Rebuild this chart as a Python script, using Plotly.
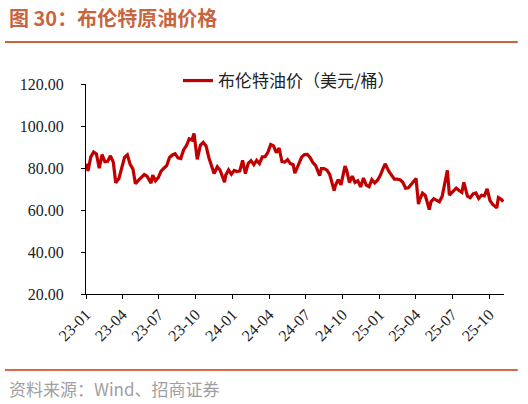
import plotly.graph_objects as go

# Brent crude, USD/bbl (roughly weekly)
dates = [
    "2023-01-03", "2023-01-06", "2023-01-13", "2023-01-20", "2023-01-27", "2023-02-03", "2023-02-10",
    "2023-02-17", "2023-02-24", "2023-03-03", "2023-03-10", "2023-03-16", "2023-03-24", "2023-03-31",
    "2023-04-07", "2023-04-14", "2023-04-21", "2023-04-28", "2023-05-04", "2023-05-12", "2023-05-19",
    "2023-05-26", "2023-06-02", "2023-06-12", "2023-06-16", "2023-06-23", "2023-06-30", "2023-07-07",
    "2023-07-14", "2023-07-21", "2023-07-28", "2023-08-04", "2023-08-11", "2023-08-18", "2023-08-25",
    "2023-09-01", "2023-09-08", "2023-09-15", "2023-09-22", "2023-09-27", "2023-10-05", "2023-10-13",
    "2023-10-20", "2023-10-27", "2023-11-03", "2023-11-10", "2023-11-16", "2023-11-24", "2023-12-01",
    "2023-12-12", "2023-12-15", "2023-12-22", "2023-12-29",
    "2024-01-05", "2024-01-12", "2024-01-19", "2024-01-26", "2024-02-02", "2024-02-09", "2024-02-16",
    "2024-02-23", "2024-03-01", "2024-03-08", "2024-03-15", "2024-03-22", "2024-03-29", "2024-04-05",
    "2024-04-12", "2024-04-19", "2024-04-26", "2024-05-03", "2024-05-10", "2024-05-17", "2024-05-24",
    "2024-05-31", "2024-06-04", "2024-06-14", "2024-06-21", "2024-06-28", "2024-07-05", "2024-07-12",
    "2024-07-19", "2024-07-26", "2024-08-05", "2024-08-09", "2024-08-16", "2024-08-23", "2024-08-30",
    "2024-09-10", "2024-09-13", "2024-09-20", "2024-09-27", "2024-10-07", "2024-10-11", "2024-10-18",
    "2024-10-25", "2024-11-01", "2024-11-08", "2024-11-15", "2024-11-22", "2024-11-29", "2024-12-06",
    "2024-12-13", "2024-12-20", "2024-12-27",
    "2025-01-03", "2025-01-10", "2025-01-15", "2025-01-24", "2025-01-31", "2025-02-07", "2025-02-14",
    "2025-02-21", "2025-02-28", "2025-03-07", "2025-03-14", "2025-03-21", "2025-03-28", "2025-04-02",
    "2025-04-08", "2025-04-11", "2025-04-18", "2025-04-25", "2025-05-05", "2025-05-09", "2025-05-16",
    "2025-05-23", "2025-05-30", "2025-06-06", "2025-06-13", "2025-06-19", "2025-06-24", "2025-07-03",
    "2025-07-11", "2025-07-18", "2025-07-25", "2025-07-30", "2025-08-08", "2025-08-15", "2025-08-22",
    "2025-08-29", "2025-09-05", "2025-09-12", "2025-09-19", "2025-09-26", "2025-10-03", "2025-10-10",
    "2025-10-20", "2025-10-24", "2025-10-31", "2025-11-05",
]
brent = [
    82.1, 78.6, 85.3, 87.6, 86.7, 79.9, 86.4,
    83.0, 83.2, 85.8, 82.8, 73.0, 75.0, 79.8,
    85.1, 86.3, 81.7, 79.5, 72.5, 74.2, 75.6,
    76.9, 76.1, 72.8, 76.6, 73.9, 75.4, 78.5,
    79.9, 81.1, 85.0, 86.2, 86.8, 84.8, 84.5,
    88.6, 90.6, 93.9, 93.3, 96.5, 84.1, 90.9,
    92.2, 90.5, 84.9, 81.4, 77.4, 80.6, 78.9,
    73.2, 76.6, 79.1, 77.0,
    78.8, 78.3, 78.6, 83.6, 77.3, 82.2, 83.5,
    81.6, 83.6, 82.1, 85.3, 85.4, 87.5, 91.2,
    90.5, 87.3, 89.5, 83.0, 82.8, 84.0, 82.1,
    81.6, 77.5, 82.6, 85.2, 86.4, 86.5, 85.0,
    82.6, 81.1, 76.3, 79.7, 79.7, 79.0, 76.9,
    69.2, 71.6, 74.5, 72.0, 80.9, 79.0, 73.1,
    76.1, 73.1, 73.9, 71.0, 75.2, 71.8, 71.1,
    74.5, 72.9, 74.2,
    76.5, 79.8, 82.0, 78.5, 76.8, 74.7, 74.7,
    74.4, 73.2, 70.4, 70.6, 72.2, 73.6, 75.0,
    62.8, 64.8, 68.0, 66.9, 60.2, 63.9, 65.4,
    64.8, 63.9, 66.5, 74.2, 78.9, 67.1, 68.8,
    70.4, 69.3, 68.4, 73.2, 66.6, 65.9, 67.7,
    68.1, 65.5, 67.0, 66.7, 70.1, 64.5, 62.7,
    61.0, 65.9, 65.1, 64.0,
]

y_ticks = [20, 40, 60, 80, 100, 120]

ACCENT = "#C8653F"
LINE_RED = "#C00000"
SERIF = "Liberation Serif"
CJK = "Noto Sans CJK SC"

fig = go.Figure()
fig.add_trace(go.Scatter(
    x=dates, y=brent, mode="lines", name="布伦特油价（美元/桶）",
    line=dict(color=LINE_RED, width=3.2),
))

fig.update_layout(
    width=528, height=404,
    margin=dict(l=86, r=24, t=84, b=110),
    paper_bgcolor="white", plot_bgcolor="white",
    showlegend=True,
    legend=dict(
        x=0.22, y=1.10, xanchor="left", yanchor="top",
        bgcolor="rgba(0,0,0,0)",
        font=dict(family=CJK, size=17, color="#222222"),
    ),
    xaxis=dict(
        type="date", range=["2023-01-01", "2025-11-07"],
        tick0="2023-01-01", dtick="M3", tickformat="%y-%m", tickangle=-45,
        ticks="outside", ticklen=4, tickcolor="black",
        showline=True, linecolor="black", linewidth=1,
        showgrid=False, zeroline=False,
        tickfont=dict(family=SERIF, size=16, color="#222222"),
    ),
    yaxis=dict(
        range=[20, 120], tickvals=y_ticks, tickformat=".2f",
        ticks="outside", ticklen=4, tickcolor="black",
        ticklabelstandoff=14,
        showline=True, linecolor="black", linewidth=1,
        showgrid=False, zeroline=False,
        tickfont=dict(family=SERIF, size=16, color="#222222"),
    ),
)

# header and footer, outside the plot area
fig.add_annotation(
    text="<b>图 30：布伦特原油价格</b>", xref="paper", yref="paper",
    x=-0.19, y=1.319, xanchor="left", yanchor="middle", showarrow=False,
    font=dict(family=CJK, size=20, color=ACCENT),
)
fig.add_shape(type="line", xref="paper", yref="paper",
              x0=-0.194, x1=1.033, y0=1.2, y1=1.2,
              line=dict(color=ACCENT, width=2))
fig.add_shape(type="line", xref="paper", yref="paper",
              x0=-0.194, x1=1.033, y0=-0.362, y1=-0.362,
              line=dict(color="#D9694A", width=2))
fig.add_annotation(
    text="资料来源：Wind、招商证券", xref="paper", yref="paper",
    x=-0.19, y=-0.448, xanchor="left", yanchor="middle", showarrow=False,
    font=dict(family=CJK, size=17, color="#A0A0A0"),
)

# page has a default 8px body margin; drop it so the figure sits at 0,0
fig.write_html("out.html", config={"displayModeBar": False},
               post_script="document.body.style.margin='0';")
